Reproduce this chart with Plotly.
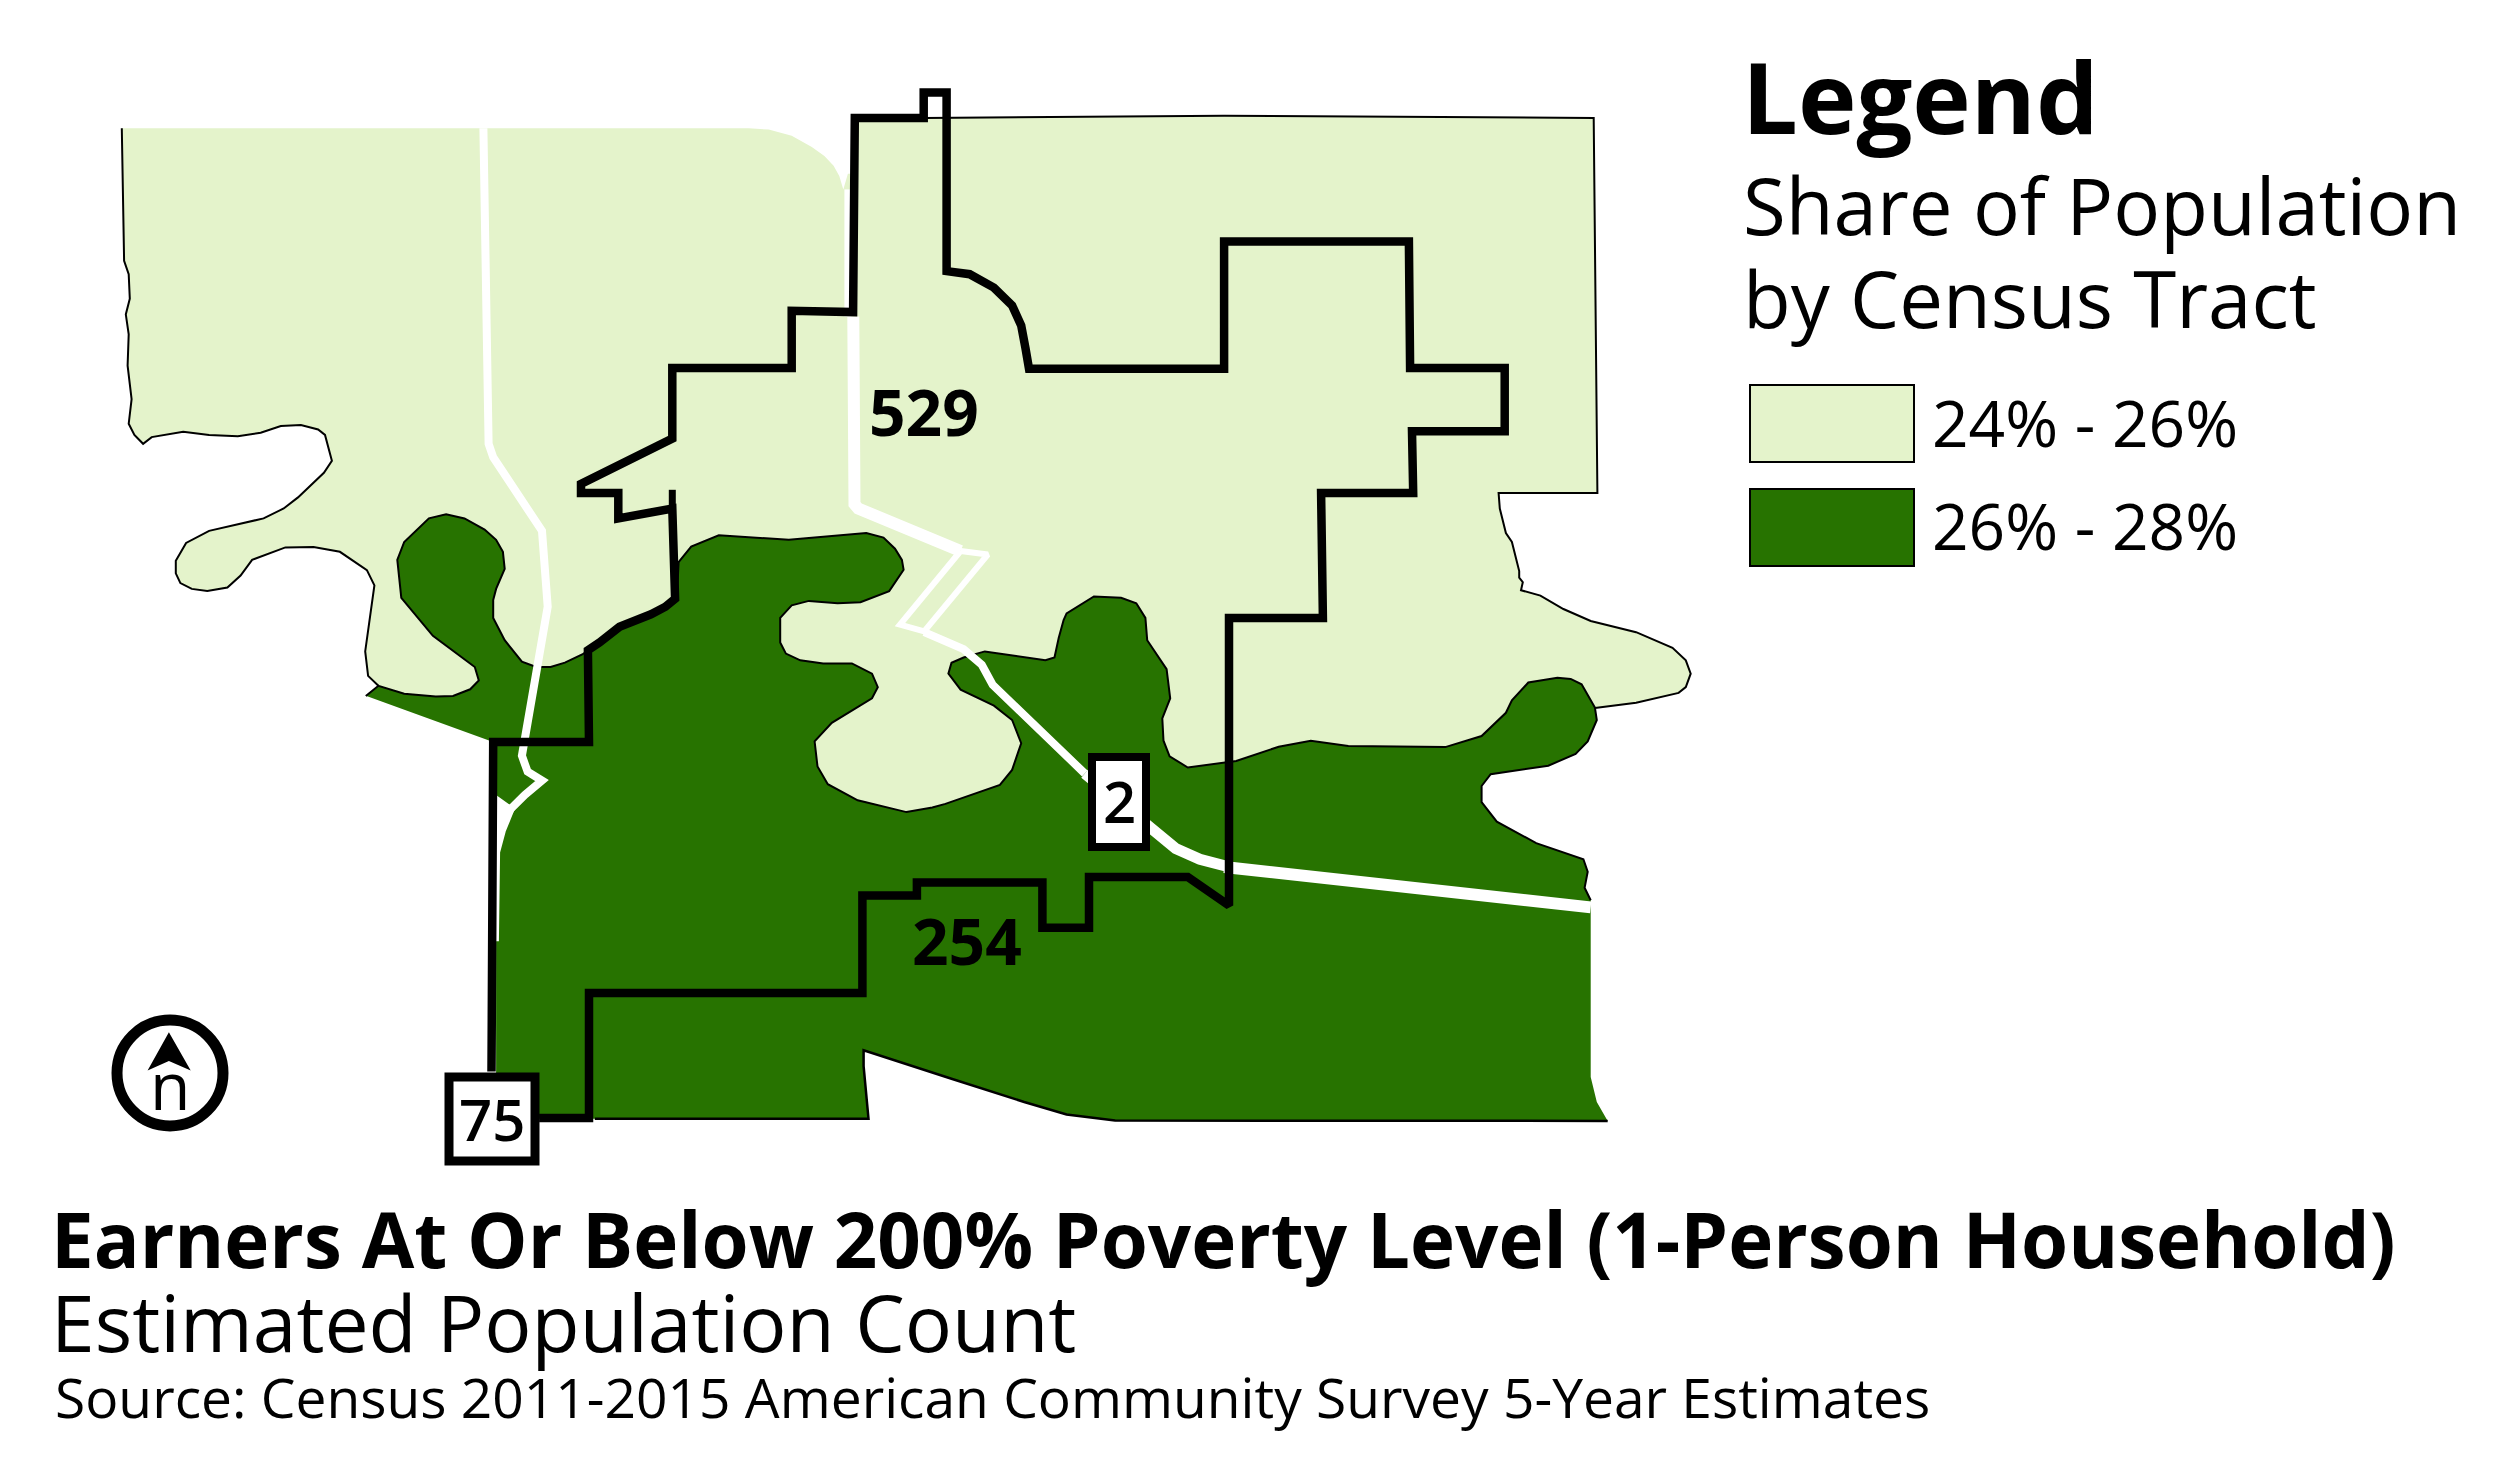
import plotly.graph_objects as go

# ---------- text ----------
LEGEND_TITLE = "Legend"
LEGEND_SUB = ["Share of Population", "by Census Tract"]
CATEGORIES = ["24% - 26%", "26% - 28%"]
COLORS = ["#e4f3cb", "#277300"]
TITLE = "Earners At Or Below 200% Poverty Level (1-Person Household)"
SUBTITLE = "Estimated Population Count"
SOURCE = "Source: Census 2011-2015 American Community Survey 5-Year Estimates"
TRACTS = ["529", "254"]
ROUTES = ["75", "2"]

# ---------- map geometry, traced per survey sheet ----------
SHEETS = {"nw": (100, 80, 0.574, 0.4464), "ne": (800, 80, 0.6059, 0.4464),
          "sw": (100, 620, 0.574, 0.357), "se": (800, 620, 0.6059, 0.357)}
def S(name, pts):
    x0, y0, fx, fy = SHEETS[name]
    return [(round(x0 + fx * a, 1), round(y0 + fy * b, 1)) for a, b in pts]

LIGHT_WEST = S("nw", [(38,108),(42,405),(50,435),(52,490),(45,525),(50,570),(48,640),(55,715),(50,770),(60,795),(75,815),
    (90,800),(145,788),(190,795),(240,798),(280,790),(315,775),(350,773),(380,783),(392,795),(404,853),(390,880),(345,935),
    (320,960),(285,982),(190,1010),(150,1037),(132,1077),(132,1105),(140,1127),(160,1140),(187,1145),(222,1137),(245,1110),
    (265,1075),(323,1047),(372,1046),(418,1057),(465,1098),(478,1132),(462,1280),(467,1335),(485,1357)])
LIGHT_BRIDGE = [(439,705),(559,727),(617,834),(800,834),(1224,800),(1527,750)]
LIGHT_EAST = S("ne", [(1312,1407),(1380,1395),(1450,1373),(1462,1360),(1470,1330),(1462,1300),(1440,1272),(1380,1237),
    (1305,1212),(1260,1185),(1222,1155),(1190,1143),(1193,1125),(1187,1115),(1187,1100),(1175,1035),(1165,1015),(1155,960),
    (1153,925),(1316,925),(1310,85),(700,80),(205,85)])
LIGHT_CORNER = S("nw", [(1310,85),(1310,210),(1303,210),(1295,245),(1288,215),(1278,192),(1262,170),(1240,150),(1205,125),
    (1165,111),(1130,108)])

DARK_EDGE = (S("nw", [(463,1380),(485,1357),(530,1375),(585,1381),(615,1380),(645,1365),(660,1345),(653,1315),(580,1245),
    (525,1160),(518,1075),(530,1035),(573,982),(603,973),(635,982),(670,1007),(690,1030),(702,1057),(705,1095),(690,1140),
    (685,1165),(685,1205),(705,1255),(735,1303),(760,1315),(785,1315),(810,1305),(840,1287),(870,1260),(905,1225),(960,1197),
    (985,1180),(1005,1160),(1008,1080),(1030,1045),(1078,1020),(1200,1030),(1270,1022),(1335,1015),(1365,1025),(1385,1050),
    (1397,1075),(1400,1097),(1375,1145),(1325,1170),(1285,1172),(1235,1167),(1205,1177),(1185,1205),(1185,1260),(1195,1285),
    (1220,1300),(1260,1307),(1310,1307),(1345,1330),(1355,1360),(1345,1385),(1275,1440),(1245,1480)])
  + S("sw", [(1245,340),(1250,410),(1268,460),(1320,505),(1405,538),(1450,525)])
  + S("se", [(240,515),(330,462),(350,420),(365,345),(350,280),(320,240),(265,195),(245,150),(250,120),(270,105),(305,88),
    (405,113),(420,105),(427,50),(435,0)])
  + S("ne", [(440,1195),(485,1157),(530,1160),(555,1172),(570,1205),(573,1255),(605,1320),(611,1385),(598,1430),(600,1480),
    (610,1515),(640,1540)])
  + S("se", [(720,395),(790,355),(843,338),(905,353),(1065,356),(1125,325),(1165,260),(1175,225),(1202,175),(1250,162),
    (1272,165),(1290,180),(1312,245),(1315,280),(1300,340),(1280,375),(1235,408),(1140,432),(1125,465),(1125,510),(1150,565),
    (1215,625),(1293,670),(1300,705),(1295,750),(1305,785)]))
DARK_RIGHT = S("se", [(1305,785),(1305,1280),(1315,1350),(1333,1403)])
DARK_BOTTOM = (S("se", [(1333,1403),(600,1403),(520,1402),(440,1385),(370,1350),(250,1285),(105,1205),(105,1250),(113,1397)])
  + S("sw", [(862,1397)]))
DARK_WEST = S("sw", [(690,1397),(690,900),(695,640),(705,580),(725,525),(712,515),(690,490),(685,342),(510,240),(463,212)])

BOUNDARY = (S("sw", [(682,1265),(685,342),(852,342),(850,85)])
  + S("nw", [(870,1260),(905,1225),(960,1197),(985,1180),(1002,1162),(997,960),(903,982),(903,925),(838,925),(838,905),
    (997,803),(997,645),(1205,645),(1205,517),(1312,520),(1315,85),(1435,85),(1435,28),(1475,28),(1475,428)])
  + S("ne", [(280,435),(320,465),(350,505),(365,550),(372,600),(378,647),(700,647),(700,362),(1005,362),(1007,645),(1163,645),
    (1163,787),(1010,787),(1012,925),(860,925),(863,1205),(708,1205)])
  + S("se", [(708,800),(640,720),(477,720),(477,862),(400,862),(400,735),(193,735),(193,772),(103,772),(103,1045)])
  + S("sw", [(852,1045),(852,1395),(765,1395)]))
BOUNDARY_STUB = S("nw", [(997,960),(997,918)])

ROAD_75 = (S("nw", [(668,108),(677,815),(685,845),(770,1010),(780,1180),(740,1480)])
  + S("sw", [(735,380),(745,425),(770,450),(740,490),(715,530),(700,590),(690,650),(688,900)]))
ROAD_2_UPPER = S("nw", [(1303,245),(1303,530)])
ROAD_2_MID = S("ne", [(88,530),(90,950),(96,960),(265,1055)])
ROAD_2_LOOP = S("ne", [(265,1055),(310,1063),(205,1235),(165,1220),(265,1055)])
ROAD_2_SOUTH = S("ne", [(205,1237),(270,1275),(300,1310),(318,1355)]) + S("se", [(470,430)])
ROAD_2_BEND = S("se", [(470,430),(580,590),(620,640),(660,670),(720,697)])
ROAD_2_EAST = S("se", [(700,692),(1305,805)])

NORTH_ARROW = S("sw", [(120,1155),(158,1262),(120,1235),(83,1262),(120,1155)])

# ---------- build ----------
fig = go.Figure()
def poly(pts, color):
    fig.add_trace(go.Scatter(x=[p[0] for p in pts], y=[p[1] for p in pts], mode="lines", fill="toself",
                             fillcolor=color, line=dict(width=0, color=color), hoverinfo="skip", showlegend=False))
def line(pts, color, w):
    fig.add_trace(go.Scatter(x=[p[0] for p in pts], y=[p[1] for p in pts], mode="lines",
                             line=dict(width=w, color=color), hoverinfo="skip", showlegend=False))

poly(LIGHT_WEST + LIGHT_BRIDGE + LIGHT_EAST + LIGHT_CORNER, COLORS[0])
poly(DARK_EDGE + DARK_RIGHT[1:] + DARK_BOTTOM[1:] + DARK_WEST, COLORS[1])

line(LIGHT_WEST, "black", 2)
line(LIGHT_EAST, "black", 2)
line(DARK_EDGE, "black", 2)
line(DARK_BOTTOM, "black", 2.5)

line(ROAD_75, "white", 8)
line(ROAD_2_UPPER, "white", 7)
line(ROAD_2_MID, "white", 12)
line(ROAD_2_LOOP, "white", 6)
line(ROAD_2_SOUTH, "white", 8)
line(ROAD_2_BEND, "white", 11)
line(ROAD_2_EAST, "white", 12)

line(BOUNDARY, "black", 8.5)
line(BOUNDARY_STUB, "black", 7)

poly(NORTH_ARROW, "black")

shapes = [
    dict(type="circle", xref="x", yref="y", x0=117, x1=223, y0=1020, y1=1126,
         line=dict(color="black", width=11), fillcolor="rgba(0,0,0,0)"),
    dict(type="rect", xref="x", yref="y", x0=449, x1=535, y0=1077, y1=1161,
         line=dict(color="black", width=9), fillcolor="white"),
    dict(type="rect", xref="x", yref="y", x0=1092, x1=1146, y0=757, y1=847,
         line=dict(color="black", width=8), fillcolor="white"),
    dict(type="rect", xref="x", yref="y", x0=1750, x1=1914, y0=385, y1=462,
         line=dict(color="black", width=2), fillcolor=COLORS[0]),
    dict(type="rect", xref="x", yref="y", x0=1750, x1=1914, y0=489, y1=566,
         line=dict(color="black", width=2), fillcolor=COLORS[1]),
]

FONT = "Open Sans"
def text(x, base, s, size, weight=400, anchor="left"):
    return dict(x=x, y=base + 0.293 * size + 1, text=s, xref="x", yref="y", xanchor=anchor, yanchor="bottom",
                showarrow=False, borderpad=0, align="left",
                font=dict(family=FONT, size=size, color="black", weight=weight))

annotations = [
    text(1741, 134, LEGEND_TITLE, 99, 700),
    text(1742, 235, LEGEND_SUB[0], 78),
    text(1742, 328, LEGEND_SUB[1], 78),
    text(1931, 447, CATEGORIES[0], 64),
    text(1931, 550, CATEGORIES[1], 64),
    text(868, 436, TRACTS[0], 64, 700),
    text(911, 965, TRACTS[1], 64, 700),
    text(492, 1141, ROUTES[0], 58, 600, "center"),
    text(1119, 823, ROUTES[1], 58, 600, "center"),
    text(170, 1110, "n", 66, 400, "center"),
    text(50, 1268, TITLE, 76.2, 700),
    text(50, 1352, SUBTITLE, 78.6),
    text(54, 1418, SOURCE, 55.1),
]

fig.update_layout(
    width=2500, height=1465, margin=dict(l=0, r=0, t=0, b=0),
    paper_bgcolor="white", plot_bgcolor="white", showlegend=False,
    xaxis=dict(range=[0, 2500], visible=False, fixedrange=True),
    yaxis=dict(range=[1465, 0], visible=False, fixedrange=True),
    shapes=shapes, annotations=annotations,
)
fig.write_html("out.html", config={"displayModeBar": False}, post_script="document.body.style.margin='0';")
